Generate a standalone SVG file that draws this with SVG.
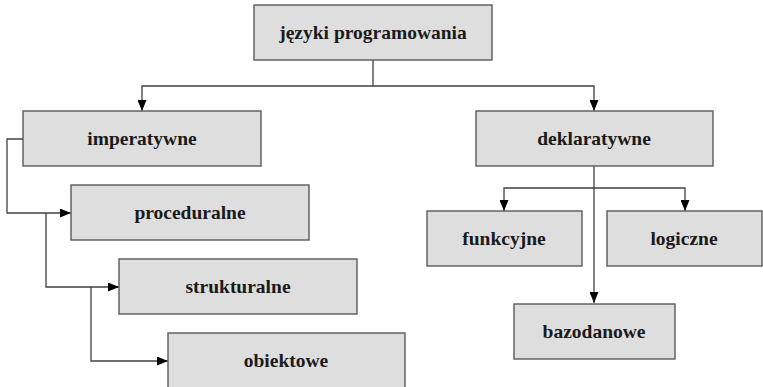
<svg xmlns="http://www.w3.org/2000/svg" width="763" height="387" viewBox="0 0 763 387">
<style>
  .box { fill: #dedede; stroke: #5a5a5a; stroke-width: 1.4; }
  .lbl { font-family: "Liberation Serif", "DejaVu Serif", serif; font-weight: bold; font-size: 19.5px; fill: #1a1a1a; text-anchor: middle; }
  .con { fill: none; stroke: #404040; stroke-width: 1.3; }
</style>
<defs>
  <marker id="arr" viewBox="0 0 11 9" refX="11" refY="4.5" markerWidth="11" markerHeight="9" markerUnits="userSpaceOnUse" orient="auto">
    <path d="M0,0 L11,4.5 L0,9 z" fill="#000"/>
  </marker>
</defs>
<rect width="763" height="387" fill="#ffffff"/>
<g id="connectors">
  <path class="con" d="M373,60 V86"/>
  <path class="con" d="M373,86 H142 V111" marker-end="url(#arr)"/>
  <path class="con" d="M373,86 H594 V111" marker-end="url(#arr)"/>
  <path class="con" d="M23,139 H7 V213 H71" marker-end="url(#arr)"/>
  <path class="con" d="M46,213 V287 H119" marker-end="url(#arr)"/>
  <path class="con" d="M91,287 V361 H168" marker-end="url(#arr)"/>
  <path class="con" d="M594,166 V303" marker-end="url(#arr)"/>
  <path class="con" d="M594,188 H504 V211" marker-end="url(#arr)"/>
  <path class="con" d="M594,188 H685 V211" marker-end="url(#arr)"/>
</g>
<g id="n-jezyki">
  <rect class="box" x="254" y="5" width="238" height="55"/>
  <text class="lbl" x="373" y="39">języki programowania</text>
</g>
<g id="n-imperatywne">
  <rect class="box" x="23" y="111" width="238" height="55"/>
  <text class="lbl" x="142" y="145">imperatywne</text>
</g>
<g id="n-deklaratywne">
  <rect class="box" x="476" y="111" width="237" height="55"/>
  <text class="lbl" x="594" y="145">deklaratywne</text>
</g>
<g id="n-proceduralne">
  <rect class="box" x="71" y="185" width="238" height="55"/>
  <text class="lbl" x="190" y="219">proceduralne</text>
</g>
<g id="n-strukturalne">
  <rect class="box" x="119" y="259" width="238" height="55"/>
  <text class="lbl" x="238" y="293">strukturalne</text>
</g>
<g id="n-obiektowe">
  <rect class="box" x="168" y="333" width="237" height="56"/>
  <text class="lbl" x="286" y="367">obiektowe</text>
</g>
<g id="n-funkcyjne">
  <rect class="box" x="427" y="211" width="155" height="55"/>
  <text class="lbl" x="504" y="245">funkcyjne</text>
</g>
<g id="n-logiczne">
  <rect class="box" x="607" y="211" width="155" height="55"/>
  <text class="lbl" x="684" y="245">logiczne</text>
</g>
<g id="n-bazodanowe">
  <rect class="box" x="514" y="304" width="161" height="55"/>
  <text class="lbl" x="594" y="338">bazodanowe</text>
</g>
</svg>
